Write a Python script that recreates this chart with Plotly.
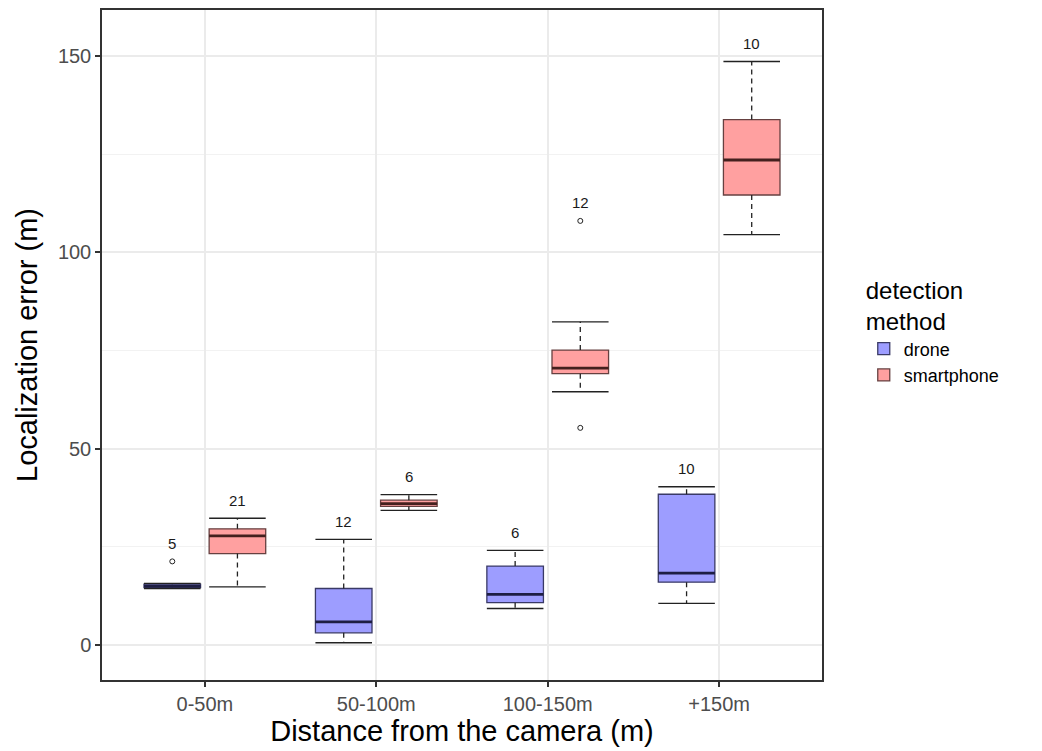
import plotly.graph_objects as go

categories = ["0-50m", "50-100m", "100-150m", "+150m"]

drone_lower = [14.4, 0.6, 9.3, 10.6]
drone_q1 = [14.6, 3.1, 10.8, 16.0]
drone_median = [15.0, 5.9, 12.9, 18.3]
drone_q3 = [15.5, 14.4, 20.1, 38.4]
drone_upper = [15.7, 26.9, 24.1, 40.3]
drone_outliers = [[21.3], [], [], []]
drone_n = [5, 12, 6, 10]

smart_lower = [14.8, 34.3, 64.5, 104.5]
smart_q1 = [23.3, 35.3, 69.1, 114.6]
smart_median = [27.8, 36.0, 70.5, 123.5]
smart_q3 = [29.6, 36.9, 75.1, 133.8]
smart_upper = [32.3, 38.3, 82.3, 148.6]
smart_outliers = [[], [], [108.0, 55.3], []]
smart_n = [21, 6, 12, 10]

FONT = "Liberation Sans, Arial, sans-serif"
DODGE = 0.19
BOXW = 0.33

series = [
    dict(name="drone", lower=drone_lower, q1=drone_q1, median=drone_median, q3=drone_q3,
         upper=drone_upper, outliers=drone_outliers, n=drone_n, offset=-DODGE,
         fill="#9d9dff", line="#3a3a66", med="#1e1e44"),
    dict(name="smartphone", lower=smart_lower, q1=smart_q1, median=smart_median, q3=smart_q3,
         upper=smart_upper, outliers=smart_outliers, n=smart_n, offset=DODGE,
         fill="#ffa0a0", line="#664040", med="#44201e"),
]

fig = go.Figure()
annotations = []

for s in series:
    pos = [i + s["offset"] for i in range(len(categories))]
    wx, wy = [], []
    cx, cy = [], []
    mx, my = [], []
    for p, lo, q1, md, q3, up in zip(pos, s["lower"], s["q1"], s["median"], s["q3"], s["upper"]):
        wx += [p, p, None, p, p, None]
        wy += [q3, up, None, q1, lo, None]
        cx += [p - BOXW / 2, p + BOXW / 2, None, p - BOXW / 2, p + BOXW / 2, None]
        cy += [up, up, None, lo, lo, None]
        mx += [p - BOXW / 2, p + BOXW / 2, None]
        my += [md, md, None]
    fig.add_trace(go.Scatter(x=wx, y=wy, mode="lines", showlegend=False, hoverinfo="skip",
                             line=dict(color="#222222", width=1.3, dash="5px,4px")))
    fig.add_trace(go.Scatter(x=cx, y=cy, mode="lines", showlegend=False, hoverinfo="skip",
                             line=dict(color="#222222", width=1.4)))
    fig.add_trace(go.Box(x=pos, q1=s["q1"], median=s["median"], q3=s["q3"],
                         lowerfence=s["q1"], upperfence=s["q3"], width=BOXW,
                         whiskerwidth=0, fillcolor=s["fill"], name=s["name"],
                         line=dict(color=s["line"], width=1.3), boxpoints=False,
                         hoverinfo="skip"))
    fig.add_trace(go.Scatter(x=mx, y=my, mode="lines", showlegend=False, hoverinfo="skip",
                             line=dict(color=s["med"], width=2.8)))
    ox, oy = [], []
    for p, outs in zip(pos, s["outliers"]):
        for o in outs:
            ox.append(p)
            oy.append(o)
    if ox:
        fig.add_trace(go.Scatter(x=ox, y=oy, mode="markers", showlegend=False, hoverinfo="skip",
                                 marker=dict(symbol="circle-open", size=5, color="#222222",
                                             line=dict(width=1))))
    for p, up, outs, n in zip(pos, s["upper"], s["outliers"], s["n"]):
        top = max([up] + outs)
        annotations.append(dict(x=p, y=top, text=str(n), showarrow=False, yshift=18,
                                yanchor="middle", font=dict(size=15, color="#1a1a1a", family=FONT)))

fig.update_layout(
    width=1034, height=743,
    margin=dict(l=94, r=220, t=0, b=71),
    paper_bgcolor="white", plot_bgcolor="white",
    font=dict(family=FONT),
    annotations=annotations,
    showlegend=True,
    legend=dict(
        title=dict(text="detection<br>method", font=dict(size=24, color="black", family=FONT)),
        font=dict(size=18, color="black", family=FONT),
        x=1.058, xanchor="left", y=0.615, yanchor="top",
        traceorder="normal", bgcolor="rgba(0,0,0,0)",
    ),
    xaxis=dict(
        range=[-0.6, 3.6], tickmode="array", tickvals=list(range(len(categories))),
        ticktext=categories, showgrid=True, gridcolor="#EBEBEB", gridwidth=1.6,
        zeroline=False, showline=True, mirror=True, linecolor="#333333", linewidth=1.5,
        ticks="outside", ticklen=5, tickwidth=1.5, tickcolor="#333333",
        tickfont=dict(size=20, color="#4D4D4D", family=FONT),
        title=dict(text="Distance from the camera (m)", font=dict(size=29, color="black", family=FONT),
                   standoff=4),
    ),
    yaxis=dict(
        range=[-8.9, 161.7], tickmode="array", tickvals=[0, 50, 100, 150],
        showgrid=True, gridcolor="#EBEBEB", gridwidth=1.6,
        minor=dict(tickmode="array", tickvals=[25, 75, 125], showgrid=True,
                   gridcolor="#F2F2F2", gridwidth=1, ticks=""),
        zeroline=False, showline=True, mirror=True, linecolor="#333333", linewidth=1.5,
        ticks="outside", ticklen=5, tickwidth=1.5, tickcolor="#333333",
        tickfont=dict(size=20, color="#4D4D4D", family=FONT),
        title=dict(text="Localization error (m)", font=dict(size=29, color="black", family=FONT),
                   standoff=12),
    ),
)

fig.write_html("out.html")
